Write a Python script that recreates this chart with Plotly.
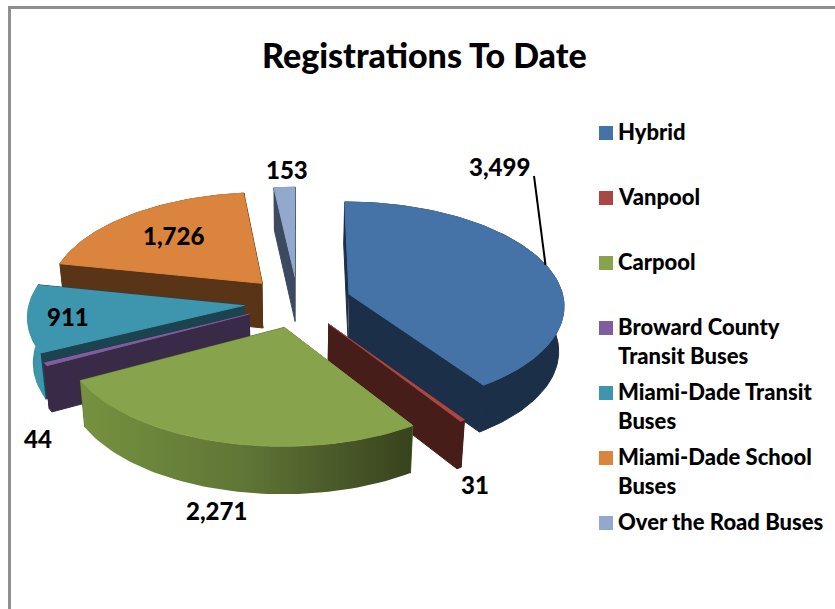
import numpy as np
import plotly.graph_objects as go

# ---------- data ----------
categories = ["Hybrid", "Vanpool", "Carpool", "Broward County Transit Buses",
              "Miami-Dade Transit Buses", "Miami-Dade School Buses", "Over the Road Buses"]
legend_labels = ["Hybrid", "Vanpool", "Carpool", "Broward County<br>Transit Buses",
                 "Miami-Dade Transit<br>Buses", "Miami-Dade School<br>Buses", "Over the Road Buses"]
values = [3499, 31, 2271, 44, 911, 1726, 153]
value_labels = ["3,499", "31", "2,271", "44", "911", "1,726", "153"]
title = "Registrations To Date"

# ---------- style ----------
top_colors = ["#4572a7", "#aa4643", "#87a44d", "#7d5fa0", "#3d96ae", "#db843d", "#92a8cd"]
wall_colors = ["#1b2f48", "#471d1a", "#5b6f34", "#392a48", "#1b4450", "#5a3416", "#3c4a60"]
outer_gradients = {2: ["#76923f", "#5f7536", "#38421d"], 4: ["#2f7a8e", "#3d96ae", "#3d96ae"]}
paint_order = [6, 5, 0, 4, 3, 1, 2]
label_xy = [(499, 166), (475, 484), (216, 510), (38, 438), (68, 316), (173, 235), (287, 169)]
legend_y = [133, 198, 263, 328, 393, 458, 523]
FONT = "Lato"
WEIGHT = 900

# ---------- projection of the tilted, exploded pie onto the pixel-scaled axes ----------
X0, Y0, RX, RY = 298.0, 302.0, 215.0, 102.6
PERSP, EXPLODE, DEPTH = 0.094, 0.25, 45.0


def project(u, v, bottom=False):
    s = 1.0 / (1.0 + PERSP * v)
    x = RX * u * s
    y = -RY * v * s
    if bottom:
        return X0 + 0.98 * x, Y0 + y + DEPTH * np.sqrt(s)
    return X0 + x, Y0 + y


def xy(points, bottom=False):
    u = np.array([p[0] for p in points])
    v = np.array([p[1] for p in points])
    return project(u, v, bottom)


def polygon(xs, ys, color, name, gradient=None):
    kw = dict(fillcolor=color)
    line_color = color
    if gradient:
        stops = np.linspace(0, 1, len(gradient))
        kw = dict(fillgradient=dict(type="horizontal",
                                    colorscale=[[float(t), c] for t, c in zip(stops, gradient)]))
        return go.Scatter(x=list(xs), y=list(ys), mode="lines", fill="toself",
                          line=dict(width=0), name=name, hoverinfo="name",
                          showlegend=False, **kw)
    return go.Scatter(x=list(xs), y=list(ys), mode="lines", fill="toself",
                      line=dict(width=1, color=line_color), name=name, hoverinfo="name",
                      showlegend=False, **kw)


fig = go.Figure()
shares = np.array(values, dtype=float) / sum(values) * 2 * np.pi
ends = np.cumsum(shares)
starts = ends - shares

for i in paint_order:
    a0, a1 = starts[i], ends[i]
    mid = (a0 + a1) / 2
    ox, oy = EXPLODE * np.sin(mid), EXPLODE * np.cos(mid)
    t = np.linspace(a0, a1, max(3, int((a1 - a0) * 40)))
    rim = [(ox + np.sin(q), oy + np.cos(q)) for q in t]
    apex = (ox, oy)
    name = f"{categories[i]}: {value_labels[i]}"
    for edge in (rim[0], rim[-1]):
        xt, yt = xy([apex, edge])
        xb, yb = xy([apex, edge], True)
        fig.add_trace(polygon(np.r_[xt, xb[::-1]], np.r_[yt, yb[::-1]], wall_colors[i], name))
    xt, yt = xy(rim)
    xb, yb = xy(rim, True)
    fig.add_trace(polygon(np.r_[xt, xb[::-1]], np.r_[yt, yb[::-1]], wall_colors[i], name,
                          outer_gradients.get(i)))
    xt, yt = xy([apex] + rim)
    fig.add_trace(polygon(xt, yt, top_colors[i], name))

# legend swatches
fig.add_trace(go.Scatter(x=[606] * len(categories), y=legend_y, mode="markers",
                         marker=dict(symbol="square", size=14, color=top_colors),
                         text=categories, hoverinfo="text", showlegend=False))

annotations = [dict(x=424, y=54, text=title, showarrow=False,
                    font=dict(family=FONT, size=34, color="black", weight=WEIGHT))]
for (lx, ly), lab in zip(label_xy, value_labels):
    annotations.append(dict(x=lx, y=ly, text=lab, showarrow=False,
                            font=dict(family=FONT, size=24, color="black", weight=WEIGHT)))
for ly, lab in zip(legend_y, legend_labels):
    two = "<br>" in lab
    annotations.append(dict(x=615.5, y=ly - 1.5 + (14.5 if two else 0), text=lab, showarrow=False,
                            xanchor="left", align="left",
                            font=dict(family=FONT, size=22, color="black", weight=WEIGHT)))

frame = "#8f8f8f"
shapes = [
    dict(type="line", x0=8, y0=7.5, x1=835, y1=7.5, line=dict(color=frame, width=3)),
    dict(type="line", x0=9.5, y0=6, x1=9.5, y1=609, line=dict(color=frame, width=3)),
    dict(type="line", x0=534, y0=176, x1=545.5, y1=265, line=dict(color="black", width=2)),
]

fig.update_layout(
    width=835, height=609, margin=dict(l=0, r=0, t=0, b=0),
    paper_bgcolor="white", plot_bgcolor="white", showlegend=False,
    xaxis=dict(range=[0, 835], visible=False, fixedrange=True),
    yaxis=dict(range=[609, 0], visible=False, fixedrange=True),
    annotations=annotations, shapes=shapes,
)
fig.write_html("out.html", config=dict(displayModeBar=False),
               post_script="document.body.style.margin='0';")
